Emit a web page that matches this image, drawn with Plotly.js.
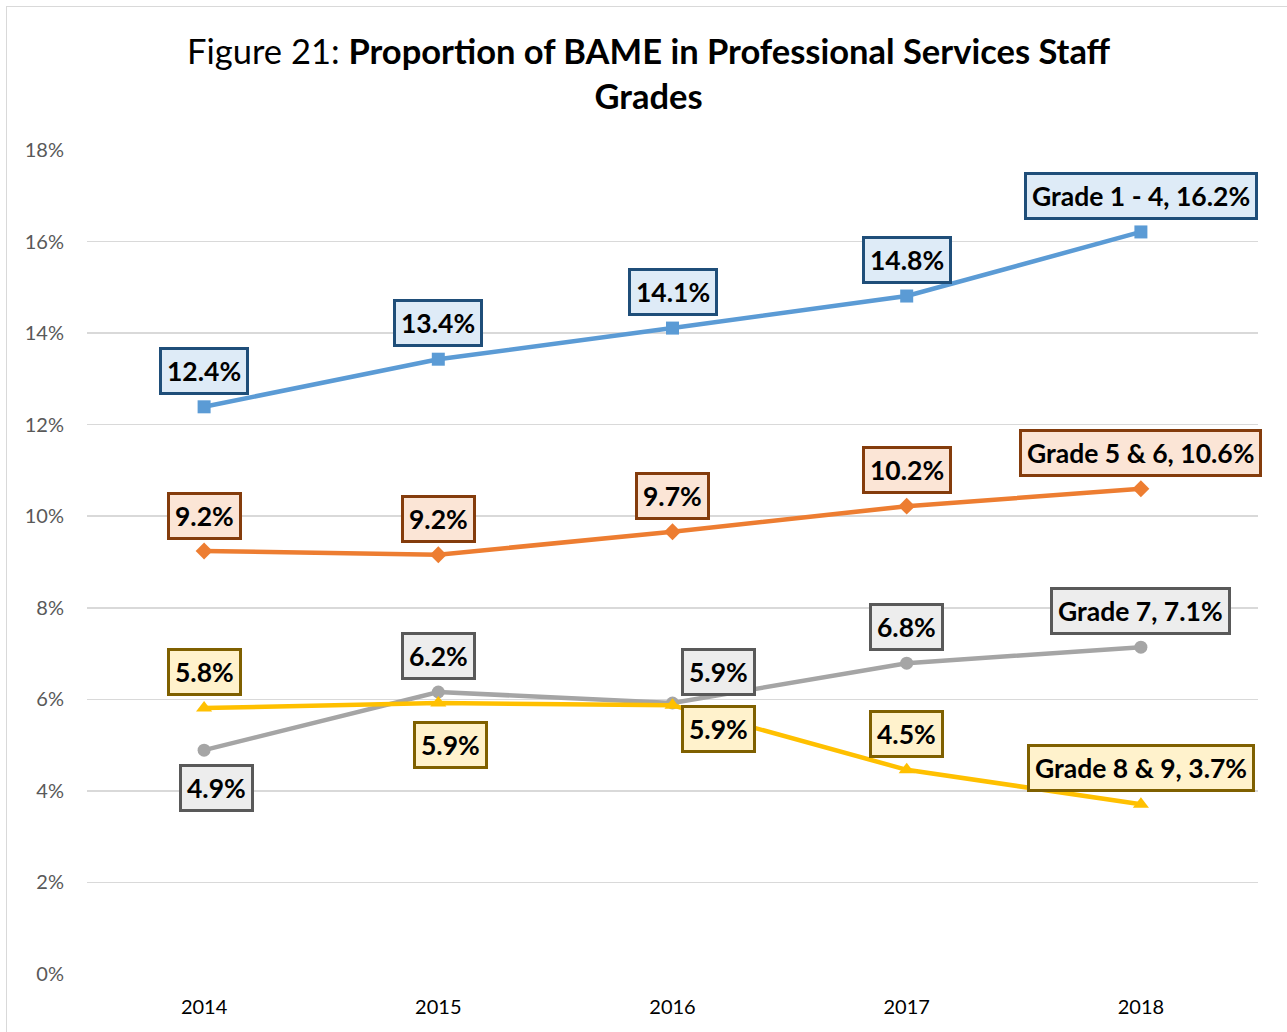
<!DOCTYPE html>
<html>
<head>
<meta charset="utf-8">
<script src="https://cdn.plot.ly/plotly-3.0.1.min.js"></script>
<style>
html,body{margin:0;padding:0;background:#fff;}
#wrap{position:relative;width:1287px;height:1032px;overflow:hidden;}
#chart{position:absolute;left:0;top:0;width:1287px;height:1032px;}
#frame{position:absolute;left:6px;top:6px;width:1300px;height:1050px;border:1.5px solid #d9d9d9;pointer-events:none;}
</style>
</head>
<body>
<div id="wrap"><div id="chart"></div><div id="frame"></div></div>
<script>
const years = ['2014', '2015', '2016', '2017', '2018'];
const seriesNames = ['Grade 1 - 4', 'Grade 5 & 6', 'Grade 7', 'Grade 8 & 9'];
const grade1to4 = [12.39, 13.43, 14.11, 14.81, 16.21];
const grade5and6 = [9.24, 9.16, 9.66, 10.22, 10.6];
const grade7 = [4.89, 6.16, 5.92, 6.79, 7.14];
const grade8and9 = [5.81, 5.92, 5.87, 4.46, 3.71];
const yTicks = [0, 2, 4, 6, 8, 10, 12, 14, 16, 18];

const FONT = 'Lato, "Open Sans", "Liberation Sans", sans-serif';

const styles = [
  {line:'#5B9BD5', symbol:'square', size:13, fill:'#DEEBF7', border:'#1F4E79'},
  {line:'#ED7D31', symbol:'diamond', size:13, fill:'#FBE5D6', border:'#843C0C'},
  {line:'#A5A5A5', symbol:'circle', size:13, fill:'#EDEDED', border:'#595959'},
  {line:'#FFC000', symbol:'triangle-up', size:14, fill:'#FFF2CC', border:'#7F6000'}
];
const allSeries = [grade1to4, grade5and6, grade7, grade8and9];

// label offsets (pixels) per series/point
const shifts = [
  [[0,36],[0,36],[0,36],[0,36],[0,36]],
  [[0,35],[0,36],[0,36],[0,36],[0,36]],
  [[12,-38],[0,36],[46,31],[0,36],[0,36]],
  [[0,36],[12,-42],[46,-24],[0,36],[0,36]]
];

const traces = allSeries.map((vals, i) => ({
  type: 'scatter', mode: 'lines+markers', name: seriesNames[i],
  x: years, y: vals,
  line: {color: styles[i].line, width: 4.5},
  marker: {symbol: styles[i].symbol, size: styles[i].size, color: styles[i].line},
  hoverinfo: 'skip'
}));

const annotations = [];
allSeries.forEach((vals, i) => {
  vals.forEach((v, j) => {
    const txt = (j === vals.length - 1 ? seriesNames[i] + ', ' : '') + v.toFixed(1) + '%';
    annotations.push({
      x: j, y: v, xref: 'x', yref: 'y', showarrow: false,
      text: '<b>' + txt + '</b>',
      xshift: shifts[i][j][0], yshift: shifts[i][j][1],
      font: {family: FONT, size: 26.5, color: '#000'},
      bgcolor: styles[i].fill, bordercolor: styles[i].border, borderwidth: 3, borderpad: 5
    });
  });
});

const layout = {
  width: 1287, height: 1032,
  margin: {l: 87, r: 29, t: 150, b: 58},
  paper_bgcolor: '#fff', plot_bgcolor: '#fff',
  showlegend: false,
  title: {
    text: 'Figure 21: <b>Proportion of BAME in Professional Services Staff<br>Grades</b>',
    x: 0.504, xanchor: 'center', y: 0.938, yanchor: 'middle', yref: 'container',
    font: {family: FONT, size: 34.5, color: '#000'}
  },
  xaxis: {
    type: 'category', range: [-0.5, 4.5], showgrid: false, zeroline: false,
    showline: false, ticks: '', ticklabelstandoff: 19,
    tickfont: {family: FONT, size: 20, color: '#000'}
  },
  yaxis: {
    range: [0, 18], tickvals: yTicks, ticktext: yTicks.map(t => t + '%'),
    showgrid: true, gridcolor: '#d9d9d9', gridwidth: 1.5, zeroline: false,
    showline: false, ticks: '', ticklabelstandoff: 22,
    tickfont: {family: FONT, size: 20, color: '#595959'}
  },
  annotations: annotations
};

Plotly.newPlot('chart', traces, layout, {displayModeBar: false, staticPlot: true});
</script>
</body>
</html>
